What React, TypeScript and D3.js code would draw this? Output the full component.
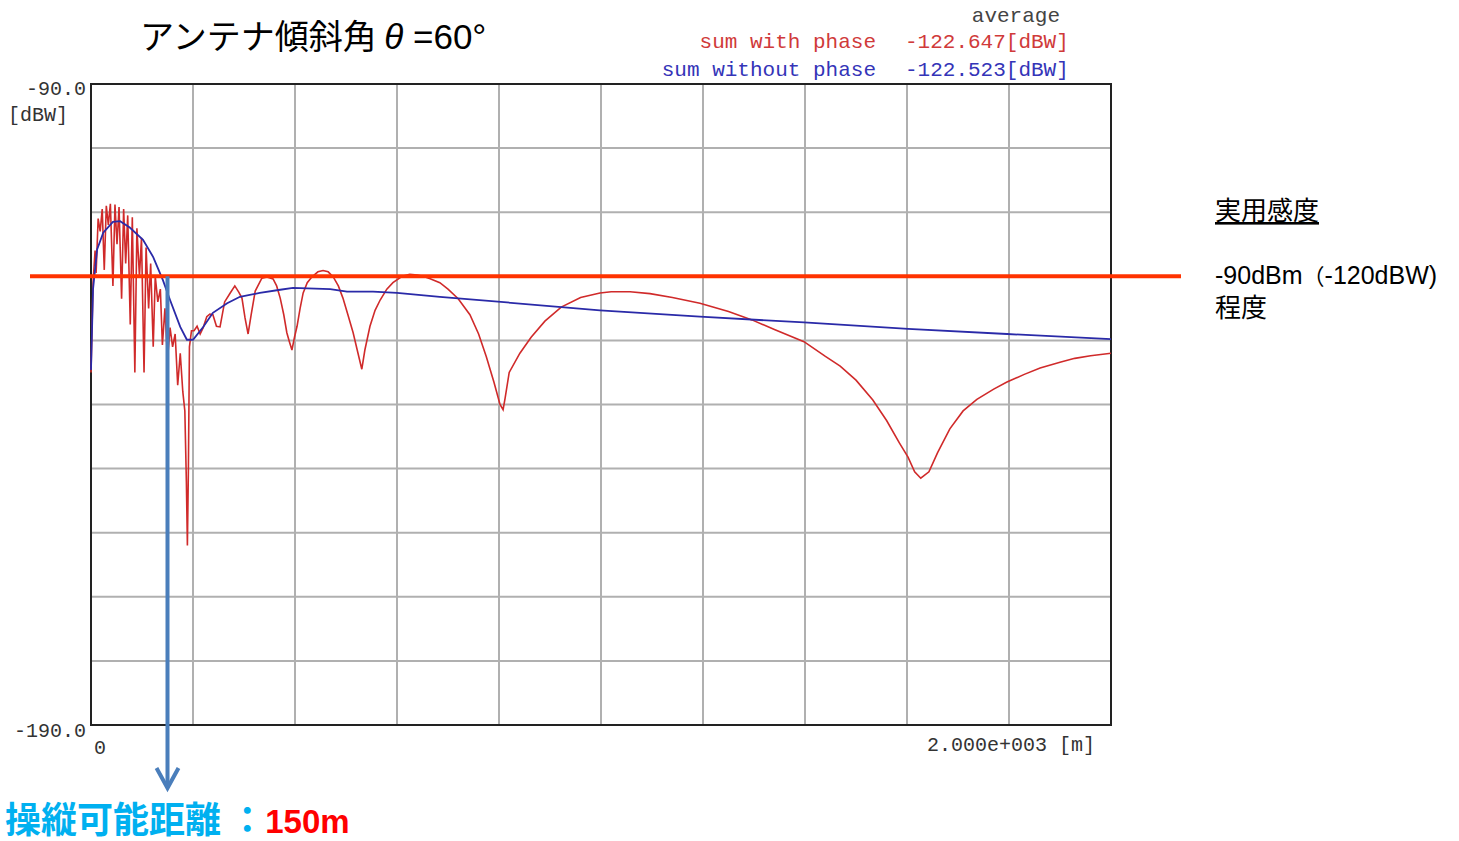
import React from "react";
import * as d3 from "d3";

// distance [m], level [dBW]
const withPhase: [number, number][] = [
  [0, -135.0], [4, -121], [8, -116], [10, -119.5], [14, -111], [18, -113], [22, -109.5],
  [26, -119.0], [30, -109], [34, -112], [38, -108.7], [43, -121.5], [47, -108.8], [51, -115],
  [55, -109.2], [60, -123.5], [64, -109.5], [68, -118], [72, -110.5], [77, -127.5], [81, -110.8],
  [86, -135], [90, -112.5], [95, -120], [99, -114], [104, -135], [108, -115.5], [113, -125],
  [117, -118], [122, -131], [126, -120], [131, -124], [136, -122], [140, -130.7], [145, -125],
  [150, -133], [155, -128], [160, -131], [165, -129], [170, -137], [175, -132], [180, -138],
  [184, -141], [187, -152], [189, -162], [191, -150], [193, -131], [197, -128.5], [202, -128.5],
  [208, -127.8], [214, -129.0], [220, -128], [227, -126.3], [233, -125.9], [239, -126.0],
  [246, -127.8], [253, -127.9], [262, -124], [273, -122.6], [282, -121.5], [290, -122.5],
  [296, -123.4], [302, -126.5], [308, -129], [314, -126], [322, -122.3], [335, -120.3],
  [345, -120.1], [357, -120.4], [364, -121.5], [371, -123.4], [378, -126], [384, -128.8],
  [389, -130.2], [394, -131.5], [399, -129.5], [404, -127.8], [410, -125], [416, -122.6],
  [424, -121], [433, -120.1], [445, -119.3], [455, -119.1], [465, -119.3], [475, -120.1],
  [485, -121.5], [494, -123.4], [503, -125.8], [514, -128.8], [522, -131.5], [531, -134.5],
  [537, -131.5], [547, -127.8], [557, -125.3], [567, -123.7], [580, -122], [592, -121.0],
  [610, -120.0], [625, -119.7], [640, -119.8], [651, -120.0], [665, -120.4], [684, -121.0],
  [700, -122], [720, -123.5], [743, -126], [760, -129], [775, -132.5], [790, -136.5],
  [802, -140], [808, -140.8], [812, -139], [820, -135], [841, -132], [863, -129.5],
  [890, -127], [922, -124.8], [960, -123.3], [998, -122.6], [1020, -122.4], [1057, -122.4],
  [1096, -122.7], [1140, -123.3], [1194, -124.2], [1250, -125.5], [1296, -126.8],
  [1340, -128.3], [1398, -130.2], [1440, -132.5], [1469, -134.0], [1500, -136.2],
  [1533, -139.3], [1560, -142.5], [1585, -146], [1602, -148.2], [1615, -150.5],
  [1627, -151.5], [1643, -150.5], [1660, -147.5], [1684, -143.8], [1710, -141],
  [1737, -139.2], [1770, -137.6], [1796, -136.5], [1830, -135.3], [1861, -134.3],
  [1900, -133.4], [1929, -132.8], [1960, -132.4], [2000, -132.0],
];

const withoutPhase: [number, number][] = [
  [0, -134.6], [4, -122], [12, -115.8], [24, -113.2], [43, -111.5], [57, -111.4],
  [76, -112.4], [102, -114.3], [122, -117], [141, -120.6], [155, -123.7], [175, -127.9],
  [188, -129.9], [200, -129.9], [220, -127.9], [239, -125.7], [267, -124.2], [292, -123.2],
  [331, -122.6], [371, -122.1], [396, -121.8], [469, -122.0], [502, -122.4], [553, -122.4],
  [600, -122.6], [684, -123.2], [998, -125.3], [1194, -126.3], [1398, -127.2],
  [1602, -128.2], [1796, -129.0], [2000, -129.8],
];

const xTicks = d3.range(0, 2001, 200);
const yTicks = d3.range(-190, -89, 10);
const threshold = -120;
const reachDistance = 150;

export default function App() {
  const W = 1459, H = 841;
  const x = d3.scaleLinear([0, 2000], [91, 1111]);
  const y = d3.scaleLinear([-190, -90], [725, 84]);
  const line = d3.line<[number, number]>().x((d) => x(d[0])).y((d) => y(d[1]));
  const mono = "'Liberation Mono', 'DejaVu Sans Mono', monospace";
  const cjk = "'Noto Sans CJK JP', sans-serif";
  const latin = "'Liberation Sans', sans-serif";
  const ax = x(reachDistance);

  return (
    <svg width={W} height={H} style={{ position: "absolute", left: 0, top: 0, background: "#fff" }}>
      {/* title */}
      <text x={140} y={49} fontSize={34} fontFamily={cjk} fill="#000">
        アンテナ傾斜角 <tspan fontStyle="italic" fontFamily={latin} fontSize={35}>θ</tspan>
        <tspan fontFamily={latin} fontSize={35}> =60°</tspan>
      </text>

      {/* legend */}
      <g fontFamily={mono} fontSize={21}>
        <text x={1060} y={22} textAnchor="end" fill="#444">average</text>
        <text x={876} y={48} textAnchor="end" fill="#d03a3a">sum with phase</text>
        <text x={905} y={48} fill="#d03a3a">-122.647[dBW]</text>
        <text x={876} y={76} textAnchor="end" fill="#3434b8">sum without phase</text>
        <text x={905} y={76} fill="#3434b8">-122.523[dBW]</text>
      </g>

      {/* grid */}
      <g stroke="#b0b0b0" strokeWidth={2}>
        {xTicks.slice(1, -1).map((t) => (
          <line key={"x" + t} x1={x(t)} x2={x(t)} y1={y(-90)} y2={y(-190)} />
        ))}
        {yTicks.slice(1, -1).map((t) => (
          <line key={"y" + t} x1={x(0)} x2={x(2000)} y1={y(t)} y2={y(t)} />
        ))}
      </g>
      <rect x={x(0)} y={y(-90)} width={x(2000) - x(0)} height={y(-190) - y(-90)}
        fill="none" stroke="#222" strokeWidth={2} />

      {/* axis labels */}
      <g fontFamily={mono} fontSize={20} fill="#333">
        <text x={86} y={95} textAnchor="end">-90.0</text>
        <text x={8} y={121}>[dBW]</text>
        <text x={86} y={737} textAnchor="end">-190.0</text>
        <text x={100} y={754} textAnchor="middle">0</text>
        <text x={1095} y={751} textAnchor="end">2.000e+003 [m]</text>
      </g>

      {/* series */}
      <path d={line(withPhase) ?? ""} fill="none" stroke="#d02a2a" strokeWidth={1.6} />
      <path d={line(withoutPhase) ?? ""} fill="none" stroke="#2a2aa8" strokeWidth={1.8} />

      {/* sensitivity line */}
      <line x1={30} x2={1181} y1={y(threshold)} y2={y(threshold)} stroke="#ff3300" strokeWidth={4} />

      {/* reach arrow */}
      <g stroke="#4a7ebb" strokeWidth={4} fill="none">
        <line x1={ax} x2={ax} y1={y(threshold)} y2={788} />
        <polyline points={`${ax - 11},768 ${ax},788 ${ax + 11},768`} strokeLinejoin="miter" />
      </g>

      {/* right annotation */}
      <g fontFamily={latin} fontSize={25} fill="#000">
        <text x={1215} y={220} fontSize={26} fontFamily={cjk} textDecoration="underline">実用感度</text>
        <text x={1215} y={284}>-90dBm<tspan fontFamily={cjk} fontSize={22}>（</tspan>-120dBW)</text>
        <text x={1215} y={317} fontSize={26} fontFamily={cjk}>程度</text>
      </g>

      {/* bottom label */}
      <text x={5} y={833} fontSize={36} fontWeight="bold" fontFamily={cjk} fill="#00b0f0">
        操縦可能距離 ：<tspan fill="#ff0000" fontFamily={latin} fontSize={33}>150m</tspan>
      </text>
    </svg>
  );
}
